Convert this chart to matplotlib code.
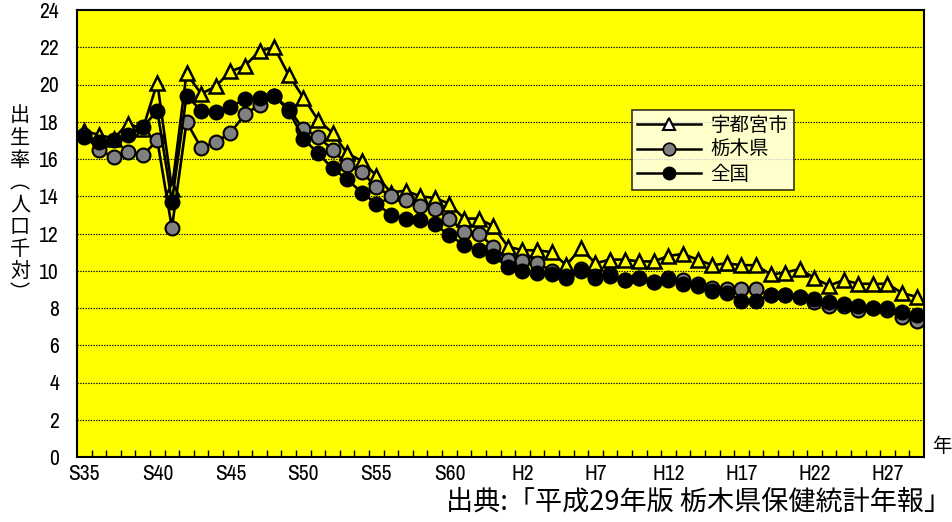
import matplotlib
matplotlib.use("Agg")
import matplotlib.pyplot as plt
from matplotlib.lines import Line2D
from matplotlib import font_manager
import numpy as np

# 出生率（人口千対） 昭和35年〜平成29年
years = list(range(1960, 2018))
tick_labels = ["S35", "S40", "S45", "S50", "S55", "S60",
               "H2", "H7", "H12", "H17", "H22", "H27"]

utsunomiya = [17.5, 17.3, 17.1, 17.9, 17.6, 20.1, 14.4, 20.6, 19.5, 19.9,
              20.7, 21.0, 21.8, 22.0, 20.5, 19.3, 18.1, 17.4, 16.3, 15.9,
              15.1, 14.2, 14.3, 14.0, 13.9, 13.6, 12.8, 12.8, 12.4, 11.3,
              11.1, 11.1, 11.0, 10.3, 11.2, 10.4, 10.6, 10.6, 10.5, 10.5,
              10.8, 10.9, 10.6, 10.3, 10.4, 10.3, 10.3, 9.8, 9.9, 10.1,
              9.6, 9.2, 9.5, 9.3, 9.3, 9.3, 8.8, 8.6]

tochigi = [17.3, 16.5, 16.1, 16.4, 16.2, 17.0, 12.3, 18.0, 16.6, 16.9,
           17.4, 18.4, 18.9, 19.4, 18.7, 17.6, 17.2, 16.5, 15.7, 15.3,
           14.5, 14.0, 13.8, 13.5, 13.3, 12.8, 12.1, 12.0, 11.3, 10.6,
           10.5, 10.4, 10.0, 9.7, 10.1, 9.7, 9.8, 9.5, 9.6, 9.4,
           9.6, 9.5, 9.3, 9.1, 9.0, 9.0, 9.0, 8.7, 8.7, 8.6,
           8.3, 8.1, 8.1, 7.9, 8.0, 7.9, 7.5, 7.3]

zenkoku = [17.2, 16.9, 17.0, 17.3, 17.7, 18.6, 13.7, 19.4, 18.6, 18.5,
           18.8, 19.2, 19.3, 19.4, 18.6, 17.1, 16.3, 15.5, 14.9, 14.2,
           13.6, 13.0, 12.8, 12.7, 12.5, 11.9, 11.4, 11.1, 10.8, 10.2,
           10.0, 9.9, 9.8, 9.6, 10.0, 9.6, 9.7, 9.5, 9.6, 9.4,
           9.5, 9.3, 9.2, 8.9, 8.8, 8.4, 8.4, 8.7, 8.7, 8.6,
           8.5, 8.3, 8.2, 8.1, 8.0, 8.0, 7.8, 7.6]

# narrow upright font for numbers if one is installed
narrow = None
for f in font_manager.fontManager.ttflist:
    if "Narrow" in f.name and f.style == "normal" and f.weight in (400, "normal", "regular"):
        narrow = font_manager.FontProperties(fname=f.fname, size=15.5)
        break
if narrow is None:
    for f in font_manager.fontManager.ttflist:
        if f.name == "DejaVu Sans" and "Condensed" in f.fname and "Bold" not in f.fname \
                and "Oblique" not in f.fname:
            narrow = font_manager.FontProperties(fname=f.fname, size=15)
            break
if narrow is None:
    narrow = font_manager.FontProperties(family="DejaVu Sans", size=13)

jp_font = ["Noto Sans CJK JP", "DejaVu Sans"]

fig = plt.figure(figsize=(9.53, 5.22), dpi=100)
ax = fig.add_axes([77 / 953, 65 / 522, 847 / 953, 447 / 522])
ax.set_facecolor("#FFFF00")

x = np.arange(len(years))
lw = 1.9
ax.plot(x, utsunomiya, color="black", lw=lw, marker="^", ms=10,
        mfc="#FFFF00", mec="black", mew=1.8, zorder=3)
ax.plot(x, tochigi, color="black", lw=lw, marker="o", ms=10,
        mfc="#808080", mec="black", mew=1.5, zorder=4)
ax.plot(x, zenkoku, color="black", lw=lw, marker="o", ms=10,
        mfc="black", mec="black", mew=1.5, zorder=5)

ax.set_xlim(-0.5, len(years) - 0.5)
ax.set_ylim(0, 24)
ax.set_yticks(np.arange(0, 25, 2))
ax.tick_params(axis="y", length=0, pad=13)
for lab in ax.get_yticklabels():
    lab.set_fontproperties(narrow)
ax.yaxis.grid(True, color="black", lw=0.8, linestyle=(0, (1.2, 1.2)))
ax.set_axisbelow(True)

# category boundary ticks (inward) + labels every 5 years
ax.set_xticks(np.arange(0.5, len(years) - 1, 1.0))
ax.tick_params(axis="x", which="major", direction="in", length=5,
               width=1, labelbottom=False)
ax.set_xticks(x[::5], minor=True)
ax.set_xticklabels(tick_labels, minor=True)
ax.tick_params(axis="x", which="minor", length=0, pad=5)
for lab in ax.get_xticklabels(minor=True):
    lab.set_fontproperties(narrow)

for s in ax.spines.values():
    s.set_linewidth(1.5)

# y label (vertical writing)
ylab = "出\n生\n率\n︵\n人\n口\n千\n対\n︶"
fig.text(20 / 953, 1 - 205 / 522, ylab, family=jp_font, fontsize=14.5,
         ha="center", va="center", linespacing=1.08)

fig.text(942 / 953, 1 - 447 / 522, "年", family=jp_font, fontsize=14,
         ha="center", va="center")

fig.text(951 / 953, 1 - 502 / 522, "出典:「平成29年版 栃木県保健統計年報」",
         family=jp_font, fontsize=19.5, ha="right", va="center")

handles = [
    Line2D([], [], color="black", lw=1.8, marker="^", ms=8, mfc="white",
           mec="black", mew=1.5),
    Line2D([], [], color="black", lw=1.8, marker="o", ms=9, mfc="#808080",
           mec="black", mew=1.2),
    Line2D([], [], color="black", lw=1.8, marker="o", ms=9, mfc="black",
           mec="black"),
]
leg = ax.legend(handles, ["宇都宮市", "栃木県", "全国"],
                prop={"family": jp_font, "size": 14},
                loc="upper left", frameon=True, fancybox=False,
                handlelength=3.3, borderpad=0.25, labelspacing=0.18,
                handletextpad=0.5, borderaxespad=0)
leg.get_frame().set_edgecolor("black")
leg.get_frame().set_linewidth(1.2)
leg.set_zorder(10)
# place legend box top-left at (632, 110) px
leg.set_bbox_to_anchor((632 / 953, 1 - 110 / 522), transform=fig.transFigure)

fig.savefig("out.png", dpi=100, facecolor="white")
